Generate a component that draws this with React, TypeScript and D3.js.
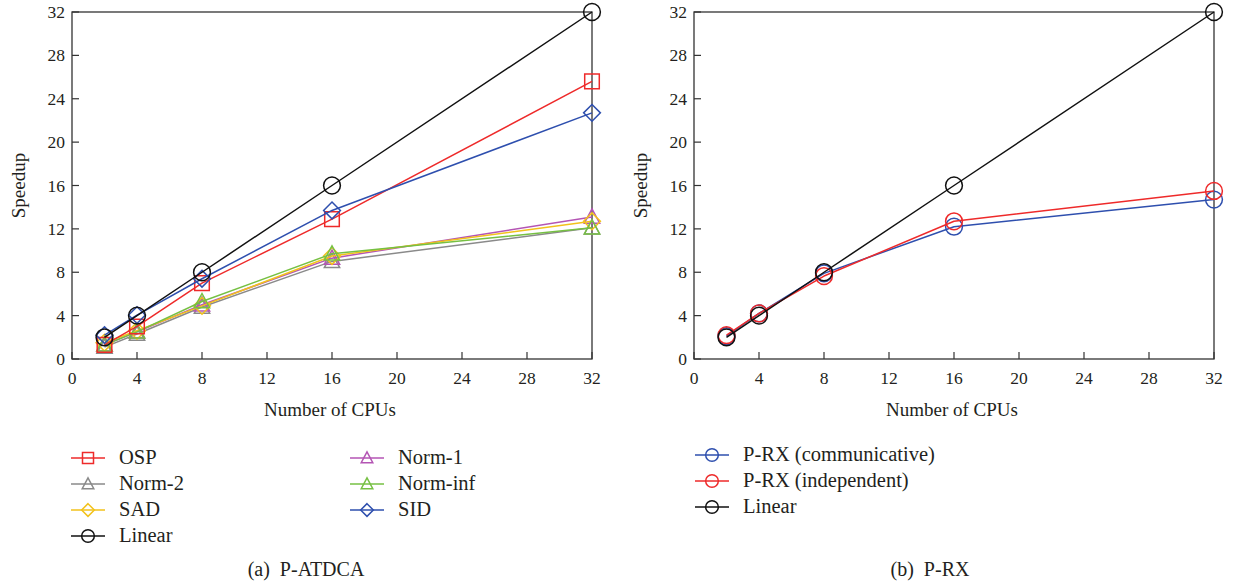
import React from 'react';
import * as d3 from 'd3';

// ---------- data ----------
const cpus = [2, 4, 8, 16, 32];

const linear = [2, 4, 8, 16, 32];
const osp = [1.3, 3.0, 7.0, 12.9, 25.6];
const norm1 = [1.3, 2.5, 5.0, 9.3, 13.1];
const norm2 = [1.1, 2.3, 4.8, 9.0, 12.1];
const normInf = [1.3, 2.5, 5.3, 9.7, 12.1];
const sad = [1.5, 2.6, 4.9, 9.5, 12.7];
const sid = [2.2, 4.05, 7.4, 13.7, 22.7];

const prxComm = [2.1, 4.2, 7.9, 12.2, 14.7];
const prxIndep = [2.2, 4.2, 7.65, 12.7, 15.5];

const tickValues = [0, 4, 8, 12, 16, 20, 24, 28, 32];

const FONT = '"Liberation Serif", "DejaVu Serif", serif';
const AXIS = '#333';
const TXT = '#231f20';

type Marker = 'square' | 'triangle' | 'diamond' | 'circle';
type Series = { name: string; values: number[]; color: string; marker: Marker };

const leftSeries: Series[] = [
  { name: 'OSP', values: osp, color: '#ee2a2a', marker: 'square' },
  { name: 'Norm-2', values: norm2, color: '#8a8a8a', marker: 'triangle' },
  { name: 'SAD', values: sad, color: '#f2c21b', marker: 'diamond' },
  { name: 'Linear', values: linear, color: '#111', marker: 'circle' },
  { name: 'Norm-1', values: norm1, color: '#b455b4', marker: 'triangle' },
  { name: 'Norm-inf', values: normInf, color: '#76c043', marker: 'triangle' },
  { name: 'SID', values: sid, color: '#2e4fae', marker: 'diamond' },
];
// draw order (bottom to top)
const leftDrawOrder = ['Norm-2', 'Norm-1', 'SAD', 'Norm-inf', 'OSP', 'SID', 'Linear'];

const rightSeries: Series[] = [
  { name: 'P-RX (communicative)', values: prxComm, color: '#2e4fae', marker: 'circle' },
  { name: 'P-RX (independent)', values: prxIndep, color: '#ee2a2a', marker: 'circle' },
  { name: 'Linear', values: linear, color: '#111', marker: 'circle' },
];

function markerPath(m: Marker, s: number) {
  // s = half size
  if (m === 'square') return `M${-s},${-s}H${s}V${s}H${-s}Z`;
  if (m === 'diamond') return `M0,${-s * 1.15}L${s * 1.15},0L0,${s * 1.15}L${-s * 1.15},0Z`;
  if (m === 'triangle') return `M0,${-s * 1.1}L${s * 1.05},${s * 0.85}L${-s * 1.05},${s * 0.85}Z`;
  return d3.arc()({ innerRadius: 0, outerRadius: s * 1.15, startAngle: 0, endAngle: Math.PI * 2 }) as string;
}

function Panel({ x0, series, order }: { x0: number; series: Series[]; order?: string[] }) {
  const top = 12;
  const bottom = 359;
  const width = 520;
  const xScale = d3.scaleLinear().domain([0, 32]).range([x0, x0 + width]);
  const yScale = d3.scaleLinear().domain([0, 32]).range([bottom, top]);
  const line = d3
    .line<number>()
    .x((d, i) => xScale(cpus[i]))
    .y((d) => yScale(d))
    .curve(d3.curveLinear);

  const drawn = order ? order.map((n) => series.find((s) => s.name === n)!) : series;

  return (
    <g>
      {/* frame */}
      <rect x={x0} y={top} width={width} height={bottom - top} fill="none" stroke={AXIS} strokeWidth={1.3} />
      {tickValues.map((t) => (
        <g key={'x' + t}>
          <line x1={xScale(t)} x2={xScale(t)} y1={bottom} y2={bottom - 7} stroke={AXIS} strokeWidth={1.2} />
          <text x={xScale(t)} y={bottom + 25} textAnchor="middle" fontSize={17.5} fill={TXT}>
            {t}
          </text>
        </g>
      ))}
      {tickValues.map((t) => (
        <g key={'y' + t}>
          <line x1={x0} x2={x0 + 7} y1={yScale(t)} y2={yScale(t)} stroke={AXIS} strokeWidth={1.2} />
          <text x={x0 - 7} y={yScale(t) + 6} textAnchor="end" fontSize={17.5} fill={TXT}>
            {t}
          </text>
        </g>
      ))}
      <text x={x0 + width / 2 - 2} y={bottom + 57} textAnchor="middle" fontSize={19} fill={TXT}>
        Number of CPUs
      </text>
      <text
        transform={`translate(${x0 - 47},${(top + bottom) / 2}) rotate(-90)`}
        textAnchor="middle"
        fontSize={19}
        fill={TXT}
      >
        Speedup
      </text>
      {drawn.map((s) => (
        <g key={s.name}>
          <path d={line(s.values) as string} fill="none" stroke={s.color} strokeWidth={1.5} strokeLinejoin="round" />
          {s.values.map((v, i) => (
            <path
              key={i}
              d={markerPath(s.marker, 7.3)}
              transform={`translate(${xScale(cpus[i])},${yScale(v)})`}
              fill="none"
              stroke={s.color}
              strokeWidth={1.5}
            />
          ))}
        </g>
      ))}
    </g>
  );
}

function LegendItem({ s, x, y }: { s: Series; x: number; y: number }) {
  return (
    <g transform={`translate(${x},${y})`}>
      <line x1={0} x2={34} y1={0} y2={0} stroke={s.color} strokeWidth={1.5} />
      <path d={markerPath(s.marker, 5.5)} transform="translate(17,0)" fill="none" stroke={s.color} strokeWidth={1.5} />
      <text x={48} y={6} fontSize={20.5} fill={TXT}>
        {s.name}
      </text>
    </g>
  );
}

export default function App() {
  const leftCol1 = leftSeries.slice(0, 4);
  const leftCol2 = leftSeries.slice(4);
  const rowY = [458, 484, 510, 536];
  return (
    <svg
      width={1234}
      height={583}
      style={{ position: 'absolute', left: 0, top: 0, background: '#fff', fontFamily: FONT }}
    >
      <Panel x0={72} series={leftSeries} order={leftDrawOrder} />
      <Panel x0={694} series={rightSeries} />

      {leftCol1.map((s, i) => (
        <LegendItem key={s.name} s={s} x={71} y={rowY[i]} />
      ))}
      {leftCol2.map((s, i) => (
        <LegendItem key={s.name} s={s} x={350} y={rowY[i]} />
      ))}
      {rightSeries.map((s, i) => (
        <LegendItem key={s.name} s={s} x={695} y={455 + i * 26} />
      ))}

      <text x={306} y={576} textAnchor="middle" fontSize={20} fill={TXT} style={{ whiteSpace: 'pre' }}>
        {'(a)  P-ATDCA'}
      </text>
      <text x={930} y={576} textAnchor="middle" fontSize={20} fill={TXT} style={{ whiteSpace: 'pre' }}>
        {'(b)  P-RX'}
      </text>
    </svg>
  );
}
